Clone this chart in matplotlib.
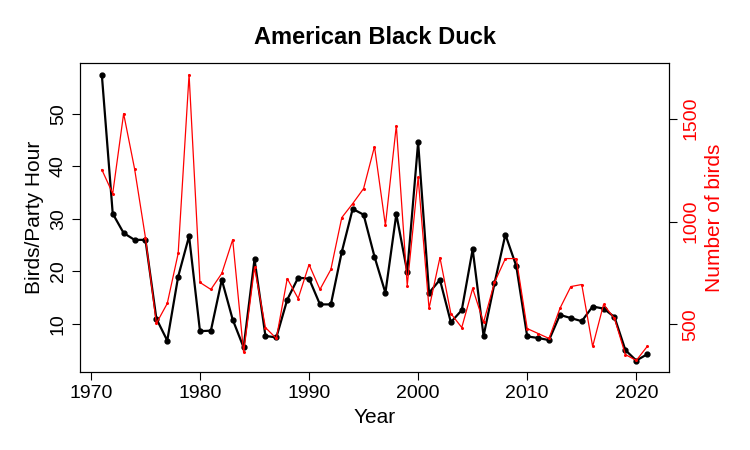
import matplotlib
matplotlib.use("Agg")
import matplotlib.pyplot as plt

plt.rcParams['font.family'] = ['Liberation Sans', 'DejaVu Sans']

years = list(range(1971, 2022))
bph = [57.5, 31, 27.3, 26, 26, 11, 6.8, 19, 26.7, 8.6, 8.7, 18.4, 10.8, 5.5, 22.3, 7.7, 7.4,
       14.6, 18.8, 18.6, 13.7, 13.7, 23.7, 31.9, 30.8, 22.8, 15.9, 30.9, 19.9, 44.6, 15.9,
       18.4, 10.3, 12.6, 24.2, 7.7, 17.7, 27, 21, 7.6, 7.3, 6.9, 11.7, 11.1, 10.5, 13.3, 12.9,
       11.3, 5.0, 3.0, 4.2]
birds = [1252, 1136, 1524, 1257, 922, 505, 602, 845, 1714, 704, 670, 748, 912, 364, 777, 485,
         432, 723, 626, 791, 670, 767, 1019, 1087, 1160, 1364, 981, 1466, 689, 1214, 578, 825,
         553, 485, 675, 510, 704, 820, 820, 480, 456, 432, 578, 684, 694, 393, 597, 529, 354,
         325, 393]

fig = plt.figure(figsize=(7.5, 4.5), dpi=100)
ax = fig.add_axes([80/750, 78/450, 589/750, 309/450])
ax.plot(years, bph, color='black', lw=1.6, marker='o', ms=3.5)
ax.set_xlim(1969, 2023)
ax.set_ylim(0.82, 59.7)
ax.set_yticks([10, 20, 30, 40, 50])
ax.set_xticks([1970, 1980, 1990, 2000, 2010, 2020])
ax.tick_params(labelsize=14, direction='out', length=6)
for lab in ax.get_yticklabels():
    lab.set_rotation(90); lab.set_va('center')
ax.set_xlabel('Year', fontsize=15)
ax.set_ylabel('Birds/Party Hour', fontsize=15)
ax.set_title('American Black Duck', fontsize=17, fontweight='bold', pad=14)

ax2 = ax.twinx()
ax2.plot(years, birds, color='red', lw=0.9, marker='o', ms=1.2)
ax2.set_ylim(269, 1770)
ax2.set_yticks([500, 1000, 1500])
ax2.tick_params(labelsize=14, direction='out', length=6, colors='red')
ax2.tick_params(axis='y', colors='black', labelcolor='red')
for lab in ax2.get_yticklabels():
    lab.set_rotation(90); lab.set_va('center')
ax2.set_ylabel('Number of birds', fontsize=15, color='red')
fig.savefig('out.png')
